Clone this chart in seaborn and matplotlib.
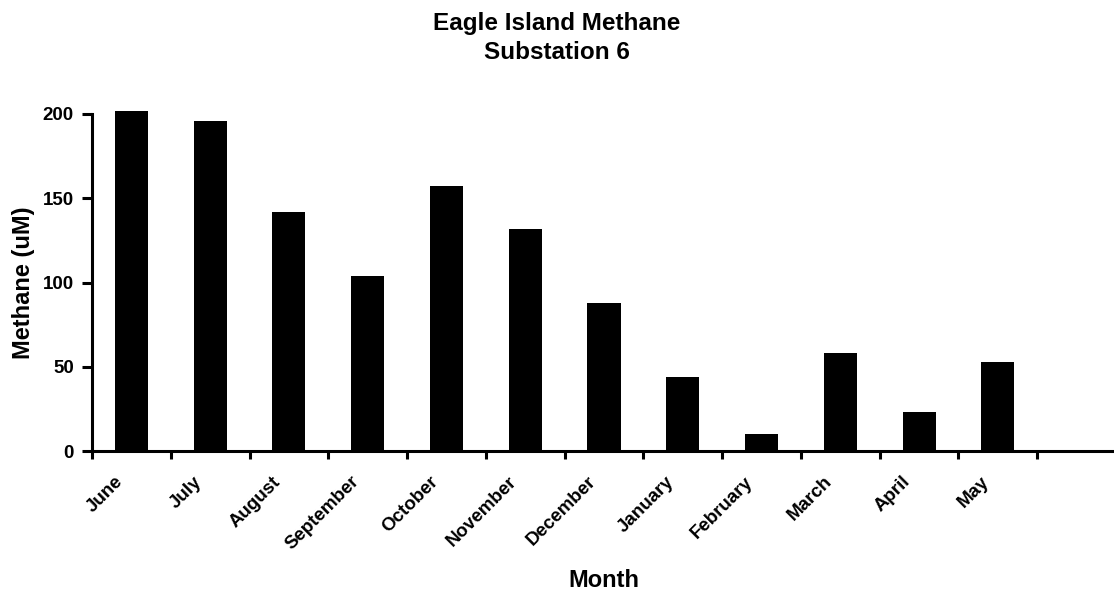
import matplotlib
matplotlib.use("Agg")
import matplotlib.pyplot as plt
import matplotlib.transforms as mtransforms
import numpy as np
import pandas as pd
import seaborn as sns

# Данные
months = ['June', 'July', 'August', 'September', 'October', 'November',
          'December', 'January', 'February', 'March', 'April', 'May']
methane = [202, 196, 142, 104, 157, 132, 88, 44, 10, 58, 23, 53]

df = pd.DataFrame({'Month': months, 'Methane': methane})

sns.set_style("ticks")
plt.rcParams['font.family'] = ['Liberation Sans', 'DejaVu Sans']
plt.rcParams['font.weight'] = 'bold'
for key in ['text.color', 'axes.labelcolor', 'xtick.color', 'ytick.color',
            'axes.edgecolor']:
    plt.rcParams[key] = 'black'

fig = plt.figure(figsize=(11.14, 5.95), dpi=100)
ax = fig.add_axes([92 / 1114, 1 - 451 / 595, 1024 / 1114, 337 / 595])

sns.barplot(data=df, x='Month', y='Methane', order=months, color='black',
            width=0.42, saturation=1, ax=ax)
for p in ax.patches:
    p.set_clip_on(False)
    p.set_edgecolor('none')

ax.set_xlim(-0.5, 12.5)
ax.set_ylim(0, 200)
ax.set_yticks([0, 50, 100, 150, 200])

# деления на границах категорий, подписи в центре
ax.set_xticks(np.arange(-0.5, 12.5, 1.0))
ax.set_xticklabels([])
ax.set_xticks(np.arange(len(months)), minor=True)
ax.set_xticklabels(months, minor=True, rotation=45, ha='right',
                   fontsize=13.5, fontweight='bold')
ax.tick_params(axis='x', which='major', direction='out', length=6, width=2.2)
ax.tick_params(axis='x', which='minor', length=0, pad=16)
ax.tick_params(axis='y', direction='out', length=7, width=2.2, pad=6,
               labelsize=13.5)
for lbl in ax.get_yticklabels():
    lbl.set_fontweight('bold')

offset = mtransforms.ScaledTranslation(-5 / 100, 0, fig.dpi_scale_trans)
for lbl in ax.xaxis.get_minorticklabels():
    lbl.set_transform(lbl.get_transform() + offset)

for side in ['top', 'right']:
    ax.spines[side].set_visible(False)
ax.spines['left'].set_linewidth(2.2)
ax.spines['bottom'].set_linewidth(2.2)

ax.set_xlabel('Month', fontsize=17, fontweight='bold')
ax.set_ylabel('Methane (uM)', fontsize=17, fontweight='bold')
ax.xaxis.set_label_coords(0.5, -0.35)
ax.yaxis.set_label_coords(-0.056, 0.5)

fig.text(0.5, 1 - 12 / 595, 'Eagle Island Methane\nSubstation 6',
         ha='center', va='top', fontsize=17.5, fontweight='bold',
         linespacing=1.35)

fig.savefig('out.png', dpi=100)
